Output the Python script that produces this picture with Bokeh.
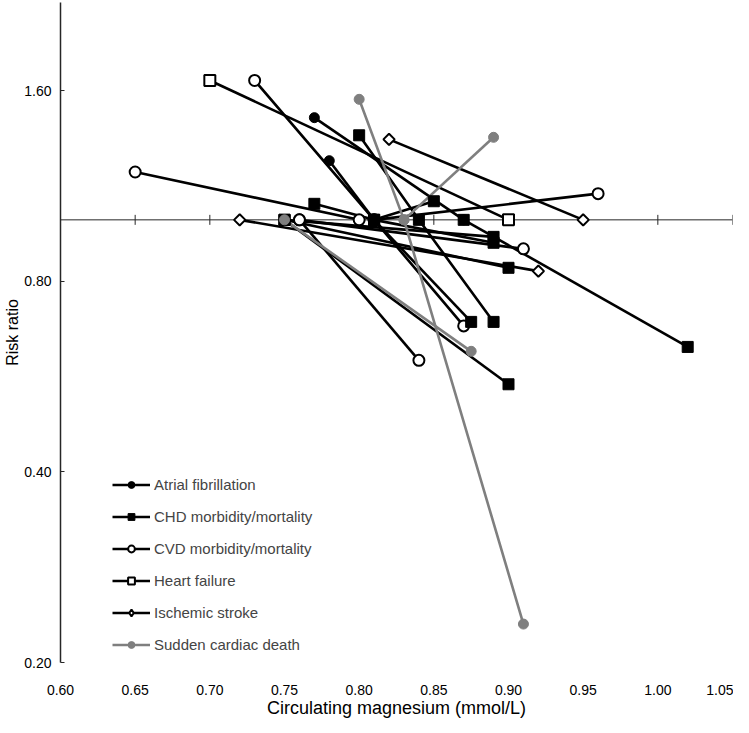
import numpy as np
from bokeh.plotting import figure
from bokeh.models import (Range1d, FixedTicker, PrintfTickFormatter,
                          Legend, LegendItem, Span)
from bokeh.embed import file_html
from bokeh.resources import INLINE

# ---------------- data ----------------
x_ticks = [0.60, 0.65, 0.70, 0.75, 0.80, 0.85, 0.90, 0.95, 1.00, 1.05]
y_ticks = [0.20, 0.40, 0.80, 1.60]

series_names = ["Atrial fibrillation", "CHD morbidity/mortality", "CVD morbidity/mortality",
                "Heart failure", "Ischemic stroke", "Sudden cardiac death"]

# each study: magnesium (mmol/L) and risk ratio at its categories
af_mg = [[0.77, 0.87], [0.78, 0.81]]
af_rr = [[1.45, 1.00], [1.24, 1.00]]

chd_mg = [[0.80, 0.84, 0.89], [0.77, 0.81, 0.85], [0.87, 1.02], [0.75, 0.89],
          [0.81, 0.89], [0.75, 0.90], [0.81, 0.875], [0.75, 0.90]]
chd_rr = [[1.36, 1.00, 0.69], [1.06, 1.00, 1.07], [1.00, 0.63], [1.00, 0.94],
          [1.00, 0.92], [1.00, 0.84], [1.00, 0.69], [1.00, 0.55]]

cvd_mg = [[0.65, 0.80], [0.73, 0.81, 0.87], [0.81, 0.96], [0.76, 0.91], [0.76, 0.84]]
cvd_rr = [[1.19, 1.00], [1.66, 1.00, 0.68], [1.00, 1.10], [1.00, 0.90], [1.00, 0.60]]

hf_mg = [[0.70, 0.90]]
hf_rr = [[1.66, 1.00]]

is_mg = [[0.82, 0.95], [0.72, 0.92]]
is_rr = [[1.34, 1.00], [1.00, 0.83]]

scd_mg = [[0.80, 0.83, 0.91], [0.83, 0.89], [0.75, 0.875]]
scd_rr = [[1.55, 1.00, 0.23], [1.00, 1.35], [1.00, 0.62]]

all_mg = [af_mg, chd_mg, cvd_mg, hf_mg, is_mg, scd_mg]
all_rr = [af_rr, chd_rr, cvd_rr, hf_rr, is_rr, scd_rr]

# ---------------- styles ----------------
styles = [
    dict(color="#000000", marker="circle", fill="#000000", size=10, angle=0.0, lw=1, leg="circle"),
    dict(color="#000000", marker="square", fill="#000000", size=11, angle=0.0, lw=1, leg="square"),
    dict(color="#000000", marker="circle", fill="#ffffff", size=11, angle=0.0, lw=2, leg="circle"),
    dict(color="#000000", marker="square", fill="#ffffff", size=11, angle=0.0, lw=2, leg="square"),
    dict(color="#000000", marker="square", fill="#ffffff", size=8, angle=np.pi / 4, lw=2, leg="diamond"),
    dict(color="#7f7f7f", marker="circle", fill="#7f7f7f", size=10, angle=0.0, lw=1, leg="circle"),
]
marker_order = [2, 0, 1, 3, 4, 5]   # drawing order of marker layers

FONT = "Liberation Sans"
AXIS_COLOR = "#262626"

p = figure(frame_width=672, frame_height=660,
           x_range=Range1d(0.60, 1.05), y_range=Range1d(0.20, 2.204),
           y_axis_type="log", output_backend="svg", toolbar_location=None,
           min_border_left=60, min_border_right=1, min_border_top=2, min_border_bottom=0)
p.grid.visible = False
p.outline_line_color = None
p.background_fill_color = "#ffffff"

# y axis (log)
ya = p.yaxis[0]
ya.ticker = FixedTicker(ticks=y_ticks)
ya.formatter = PrintfTickFormatter(format="%.2f")
ya.major_tick_in = 4
ya.major_tick_out = 0
ya.minor_tick_in = 0
ya.minor_tick_out = 0
ya.axis_line_color = AXIS_COLOR
ya.axis_line_width = 1.5
ya.major_tick_line_color = AXIS_COLOR
ya.major_label_text_font = FONT
ya.major_label_text_font_size = "14px"
ya.major_label_text_color = "#000000"
ya.major_label_standoff = 9
ya.axis_label = "Risk ratio"
ya.axis_label_text_font = FONT
ya.axis_label_text_font_size = "16px"
ya.axis_label_text_font_style = "normal"
ya.axis_label_text_color = "#000000"
ya.axis_label_standoff = 0

# x axis with labels only (bottom)
xa = p.xaxis[0]
xa.ticker = FixedTicker(ticks=x_ticks)
xa.formatter = PrintfTickFormatter(format="%.2f")
xa.axis_line_color = None
xa.major_tick_line_color = None
xa.minor_tick_line_color = None
xa.major_label_text_font = FONT
xa.major_label_text_font_size = "14px"
xa.major_label_text_color = "#000000"
xa.major_label_standoff = 16
xa.axis_label = "Circulating magnesium (mmol/L)"
xa.axis_label_text_font = FONT
xa.axis_label_text_font_size = "18px"
xa.axis_label_text_font_style = "normal"
xa.axis_label_text_color = "#000000"
xa.axis_label_standoff = 0

# horizontal axis line crossing at RR = 1.0, with cross ticks
p.add_layout(Span(location=1.0, dimension="width", line_color=AXIS_COLOR,
                  line_width=1, level="underlay"))
p.scatter(x=x_ticks, y=[1.0] * len(x_ticks), marker="dash", angle=np.pi / 2, size=10,
          line_color=AXIS_COLOR, line_width=1)

# lines first
line_r = []
for mgs, rrs, st in zip(all_mg, all_rr, styles):
    line_r.append(p.multi_line(xs=mgs, ys=rrs, line_color=st["color"], line_width=2.6))

# markers, layered
mark_r = [None] * len(styles)
for i in marker_order:
    mgs, rrs, st = all_mg[i], all_rr[i], styles[i]
    fx = [v for s in mgs for v in s]
    fy = [v for s in rrs for v in s]
    mark_r[i] = p.scatter(x=fx, y=fy, marker=st["marker"], size=st["size"], angle=st["angle"],
                          fill_color=st["fill"], line_color=st["color"], line_width=st["lw"])

items = []
for i, name in enumerate(series_names):
    st = styles[i]
    if st["leg"] != st["marker"] or st["angle"] != 0.0:
        # legend-only marker (legend draws markers unrotated)
        lg = p.scatter(x=all_mg[i][0][:1], y=all_rr[i][0][:1], marker=st["leg"], size=st["size"],
                       fill_color=st["fill"], line_color=st["color"], line_width=st["lw"],
                       visible=False)
        items.append(LegendItem(label=name, renderers=[line_r[i], lg]))
    else:
        items.append(LegendItem(label=name, renderers=[line_r[i], mark_r[i]]))

leg = Legend(items=items, location=(52, 8), orientation="vertical",
             label_text_font=FONT, label_text_font_size="15px",
             glyph_width=38, glyph_height=17, label_height=20, spacing=12,
             padding=0, margin=0, label_standoff=4,
             background_fill_alpha=0, border_line_color=None)
p.add_layout(leg, "center")

open("out.html", "w").write(file_html(p, INLINE))
